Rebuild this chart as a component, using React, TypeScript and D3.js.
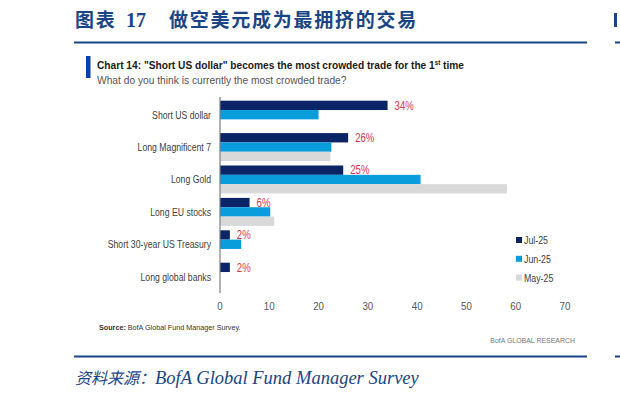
import React from "react";
import * as d3 from "d3";

const categories = [
  "Short US dollar",
  "Long Magnificent 7",
  "Long Gold",
  "Long EU stocks",
  "Short 30-year US Treasury",
  "Long global banks",
];
const jul25 = [34, 26, 25, 6, 2, 2];
const jun25 = [20, 22.6, 40.7, 10.2, 4.3, 0];
const may25 = [0, 22.4, 58.2, 11, 0, 0];
const julLabels = ["34%", "26%", "25%", "6%", "2%", "2%"];
const seriesNames = ["Jul-25", "Jun-25", "May-25"];
const xTicks = [0, 10, 20, 30, 40, 50, 60, 70];

const colors = ["#0b2466", "#0a9ddc", "#d9d9d9"];
const blueHead = "#1a4585";
const sans = "'Liberation Sans', Arial, sans-serif";

type TProps = {
  x: number;
  y: number;
  sx?: number;
  anchor?: "start" | "middle" | "end";
  size: number;
  fill: string;
  weight?: string;
  dy?: string;
  children: React.ReactNode;
};

function T({ x, y, sx = 1, anchor = "start", size, fill, weight, dy = "0.36em", children }: TProps) {
  return (
    <g transform={`translate(${x},${y}) scale(${sx},1)`}>
      <text
        x={0}
        y={0}
        dy={dy}
        textAnchor={anchor}
        fontFamily={sans}
        fontSize={size}
        fontWeight={weight}
        fill={fill}
      >
        {children}
      </text>
    </g>
  );
}

export default function App() {
  const x = d3.scaleLinear().domain([0, 70]).range([220, 565]);
  const y = d3
    .scaleBand<string>()
    .domain(categories)
    .range([100.7, 100.7 + 32.4 * categories.length])
    .paddingInner(0)
    .paddingOuter(0);
  const inner = d3.scaleBand<string>().domain(seriesNames).range([0, 28]).padding(0);
  const series = [jul25, jun25, may25];

  return (
    <svg
      width={620}
      height={394}
      style={{ position: "absolute", left: 0, top: 0, background: "#fff" }}
    >
      {/* header */}
      <g fontFamily="'Liberation Serif', 'Noto Sans CJK SC', serif" fontWeight="bold" fill={blueHead}>
        <text x={75} y={27} fontSize={19} letterSpacing={1.8}>图表</text>
        <text x={126} y={27} fontSize={20}>17</text>
        <text x={169} y={27} fontSize={19} letterSpacing={1.75}>做空美元成为最拥挤的交易</text>
      </g>
      <rect x={74} y={41.5} width={513} height={2} fill={blueHead} />
      <rect x={615} y={41.5} width={5} height={2} fill={blueHead} />
      <rect x={614} y={13} width={3} height={14} fill={blueHead} />

      {/* chart title */}
      <rect x={86} y={56} width={4.5} height={22} fill="#0a3fb0" />
      <T x={97} y={65} sx={0.885} size={11.5} weight="bold" fill="#1a1a1a">
        Chart 14: "Short US dollar" becomes the most crowded trade for the 1
        <tspan fontSize={7} dy={-4}>st</tspan>
        <tspan dy={4}> time</tspan>
      </T>
      <T x={97} y={80} sx={0.89} size={11.5} fill="#555">
        What do you think is currently the most crowded trade?
      </T>

      {/* bars */}
      {categories.map((c, ci) => (
        <g key={c}>
          {series.map((s, si) =>
            s[ci] > 0 ? (
              <rect
                key={si}
                x={x(0)}
                y={(y(c) as number) + (inner(seriesNames[si]) as number)}
                width={x(s[ci]) - x(0)}
                height={inner.bandwidth()}
                fill={colors[si]}
              />
            ) : null
          )}
          <T x={x(jul25[ci]) + 7} y={(y(c) as number) + inner.bandwidth() / 2} sx={0.8} size={12} fill="#e0344f">
            {julLabels[ci]}
          </T>
          <T x={211} y={(y(c) as number) + 14} sx={0.79} anchor="end" size={11} fill="#404040">
            {c}
          </T>
        </g>
      ))}

      {/* axis */}
      <line x1={x(0)} x2={x(0)} y1={97} y2={293} stroke="#7f7f7f" strokeWidth={1.2} />
      {xTicks.map((t) => (
        <T key={t} x={x(t)} y={306} sx={0.85} anchor="middle" size={11.5} fill="#595959">
          {t}
        </T>
      ))}

      {/* legend */}
      {seriesNames.map((n, i) => (
        <g key={n}>
          <rect x={516} y={240 + i * 18.8 - 3} width={6} height={6} fill={colors[i]} />
          <T x={524} y={240 + i * 18.8} sx={0.8} size={11} fill="#404040">
            {n}
          </T>
        </g>
      ))}

      {/* source */}
      <T x={99} y={327} sx={0.9} size={8} fill="#333">
        <tspan fontWeight="bold">Source:</tspan> BofA Global Fund Manager Survey.
      </T>
      <T x={575} y={340} sx={0.87} anchor="end" size={8} fill="#777">
        BofA GLOBAL RESEARCH
      </T>

      {/* footer */}
      <rect x={74} y={355.5} width={513} height={2} fill={blueHead} />
      <rect x={615} y={355.5} width={5} height={2} fill={blueHead} />
      <text
        x={75}
        y={384}
        fontFamily="'Liberation Serif', 'Noto Sans CJK SC', serif"
        fontStyle="italic"
        fill={blueHead}
      >
        <tspan fontSize={16}>资料来源：</tspan>
        <tspan fontSize={18.5}>BofA Global Fund Manager Survey</tspan>
      </text>
    </svg>
  );
}
